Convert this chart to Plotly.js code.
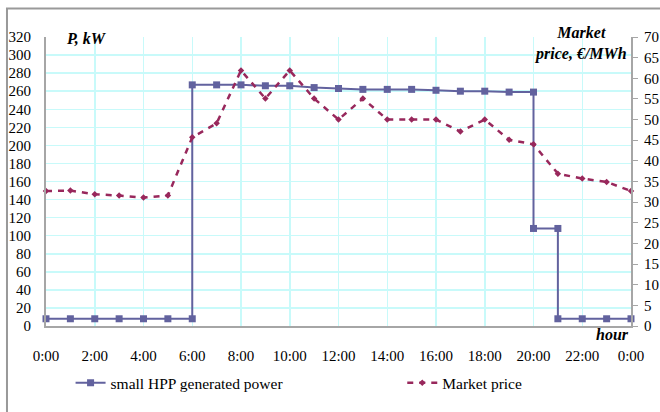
<!DOCTYPE html>
<html>
<head>
<meta charset="utf-8">
<script src="https://cdn.plot.ly/plotly-3.0.1.min.js"></script>
<style>
html,body{margin:0;padding:0;background:#fff;}
#chart{width:660px;height:412px;}
</style>
</head>
<body>
<div id="chart"></div>
<script>
// Hours (0..24) for the market price, one value per hour
const priceHours = [0,1,2,3,4,5,6,7,8,9,10,11,12,13,14,15,16,17,18,19,20,21,22,23,24];
const marketPrice = [32.7,32.8,31.9,31.6,31.1,31.6,45.7,49.1,61.9,55.1,61.9,55.1,50.0,55.1,50.0,50.0,50.0,47.1,50.0,45.1,44.0,36.9,35.7,34.9,32.7];

// Small HPP generated power (step profile, kW)
const powerHours = [0,1,2,3,4,5,6,6,7,8,9,10,11,12,13,14,15,16,17,18,19,20,20,21,21,22,23,24];
const powerKW    = [8,8,8,8,8,8,8,267,267,267,266,266,264,263,262,262,262,261,260,260,259,259,108,108,8,8,8,8];

const xTickVals = [0,2,4,6,8,10,12,14,16,18,20,22,24];
const xTickText = ["0:00","2:00","4:00","6:00","8:00","10:00","12:00","14:00","16:00","18:00","20:00","22:00","0:00"];
const leftTicks = [0,20,40,60,80,100,120,140,160,180,200,220,240,260,280,300,320];
const rightTicks = [0,5,10,15,20,25,30,35,40,45,50,55,60,65,70];

const serif = "Liberation Serif, Times New Roman, serif";

const traces = [
  {
    x: powerHours, y: powerKW, name: "small HPP generated power",
    type: "scatter", mode: "lines+markers", legend: "legend",
    line: {color: "#62629e", width: 2},
    marker: {symbol: "square", size: 7, color: "#62629e"},
    cliponaxis: false
  },
  {
    x: priceHours, y: marketPrice, name: "Market price", yaxis: "y2", legend: "legend2",
    type: "scatter", mode: "lines+markers",
    line: {color: "#98285c", width: 2.5, dash: "6px,6px"},
    marker: {symbol: "diamond", size: 5, color: "#98285c"},
    cliponaxis: false
  }
];

const legendFont = {family: serif, size: 15.5, color: "#000"};

const layout = {
  width: 660, height: 412,
  margin: {l: 46, r: 29, t: 37, b: 83},
  paper_bgcolor: "#fff", plot_bgcolor: "#fff",
  font: {family: serif, size: 15, color: "#000"},
  showlegend: true,
  legend: {
    orientation: "h", x: 0.042, xanchor: "left", y: -0.198, yanchor: "middle",
    font: legendFont, bgcolor: "rgba(0,0,0,0)"
  },
  legend2: {
    orientation: "h", x: 0.609, xanchor: "left", y: -0.198, yanchor: "middle",
    font: legendFont, bgcolor: "rgba(0,0,0,0)"
  },
  xaxis: {
    range: [0, 24], tickvals: xTickVals, ticktext: xTickText,
    showgrid: true, gridcolor: "#c8fafa", gridwidth: 1.5,
    showline: true, linecolor: "#a6a6a6", linewidth: 2,
    ticks: "", ticklabelstandoff: 15, zeroline: false,
    tickfont: {family: serif, size: 15, color: "#000"}
  },
  yaxis: {
    range: [0, 320], tickvals: leftTicks,
    showgrid: true, gridcolor: "#c8fafa", gridwidth: 1.5,
    showline: true, linecolor: "#a6a6a6", linewidth: 2,
    ticks: "", ticklabelstandoff: 10, zeroline: false,
    tickfont: {family: serif, size: 15, color: "#000"}
  },
  yaxis2: {
    range: [0, 70], tickvals: rightTicks, overlaying: "y", side: "right",
    showgrid: false, showline: true, linecolor: "#a6a6a6", linewidth: 2,
    ticks: "outside", ticklen: 5, tickcolor: "#a6a6a6", tickwidth: 1,
    ticklabelstandoff: 3, zeroline: false,
    tickfont: {family: serif, size: 15, color: "#000"}
  },
  shapes: [
    {type: "rect", xref: "paper", yref: "paper",
     x0: -0.0667, x1: 1.2, y0: -0.6, y1: 1.099,
     line: {color: "#999999", width: 2}, fillcolor: "rgba(0,0,0,0)", layer: "below"}
  ],
  annotations: [
    {text: "<b><i>P, kW</i></b>", xref: "paper", yref: "paper",
     x: 0.03, y: 0.994, xanchor: "left", yanchor: "middle", showarrow: false,
     font: {family: serif, size: 16, color: "#000"}},
    {text: "<b><i>Market<br>price, €/MWh</i></b>", xref: "paper", yref: "paper",
     x: 0.996, y: 0.976, xanchor: "right", yanchor: "middle", align: "center", showarrow: false,
     font: {family: serif, size: 16, color: "#000"}},
    {text: "<b><i>hour</i></b>", xref: "paper", yref: "paper",
     x: 1.0, y: -0.03, xanchor: "right", yanchor: "middle", showarrow: false,
     font: {family: serif, size: 16, color: "#000"}}
  ]
};

Plotly.newPlot("chart", traces, layout, {displayModeBar: false, staticPlot: true});
</script>
</body>
</html>
